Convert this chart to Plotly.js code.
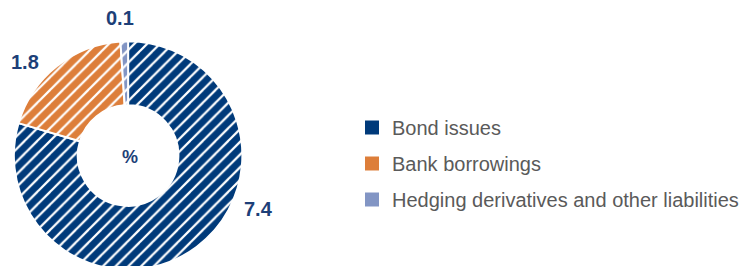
<!DOCTYPE html>
<html>
<head>
<meta charset="utf-8">
<script src="https://cdn.plot.ly/plotly-3.0.1.min.js"></script>
<style>
html,body{margin:0;padding:0;overflow:hidden;background:#fff;}
#chart{width:744px;height:290px;}
</style>
</head>
<body>
<div id="chart"></div>
<script>
const categories = ["Bond issues", "Bank borrowings", "Hedging derivatives and other liabilities"];
const values = [7.4, 1.8, 0.1];
const colors = ["#003a7a", "#dd7e3a", "#8295c4"];
const centerLabel = "%";

const H = 290;
const px = (x) => x / 744;
const py = (y) => (H - y) / H;

const pie = {
  type: "pie",
  values: values,
  labels: categories,
  sort: false,
  direction: "clockwise",
  rotation: 0,
  hole: 0.44,
  textinfo: "none",
  showlegend: false,
  domain: { x: [px(14), px(245)], y: [py(271), py(40)] },
  marker: {
    colors: colors,
    line: { color: "#ffffff", width: 2 },
    pattern: { shape: "/", fgcolor: "#ffffff", bgcolor: colors, fillmode: "replace", size: 9, solidity: 0.25 }
  }
};

const legendTraces = categories.map((c, i) => ({
  type: "scatter",
  mode: "markers",
  x: [null], y: [null],
  name: c,
  legendgroup: "g" + i,
  marker: { symbol: "square", size: 14, color: colors[i] },
  showlegend: true
}));

const labelPos = [[261, 209], [25, 62], [121, 18]];
const annotations = values.map((v, i) => ({
  text: "<b>" + v.toFixed(1) + "</b>",
  x: px(labelPos[i][0]), y: py(labelPos[i][1]),
  xref: "paper", yref: "paper",
  xanchor: "center", yanchor: "middle",
  showarrow: false,
  font: { family: "Liberation Sans, Arial, sans-serif", size: 20, color: "#1d3f78" }
}));
annotations.push({
  text: "<b>" + centerLabel + "</b>",
  x: px(131), y: py(157), xref: "paper", yref: "paper",
  xanchor: "center", yanchor: "middle", showarrow: false,
  font: { family: "Liberation Sans, Arial, sans-serif", size: 18, color: "#1d3f78" }
});

const layout = {
  width: 744, height: H,
  margin: { l: 0, r: 0, t: 0, b: 0 },
  paper_bgcolor: "#ffffff",
  plot_bgcolor: "#ffffff",
  xaxis: { visible: false, domain: [0.99, 1] },
  yaxis: { visible: false, domain: [0.99, 1] },
  showlegend: true,
  legend: {
    x: px(356), y: py(108), xanchor: "left", yanchor: "top",
    font: { family: "Liberation Sans, Arial, sans-serif", size: 20, color: "#5a5a5a" },
    tracegroupgap: 7,
    itemclick: false, itemdoubleclick: false,
    bgcolor: "rgba(0,0,0,0)"
  },
  annotations: annotations
};

Plotly.newPlot("chart", [pie].concat(legendTraces), layout, { staticPlot: true, displayModeBar: false });
</script>
</body>
</html>
